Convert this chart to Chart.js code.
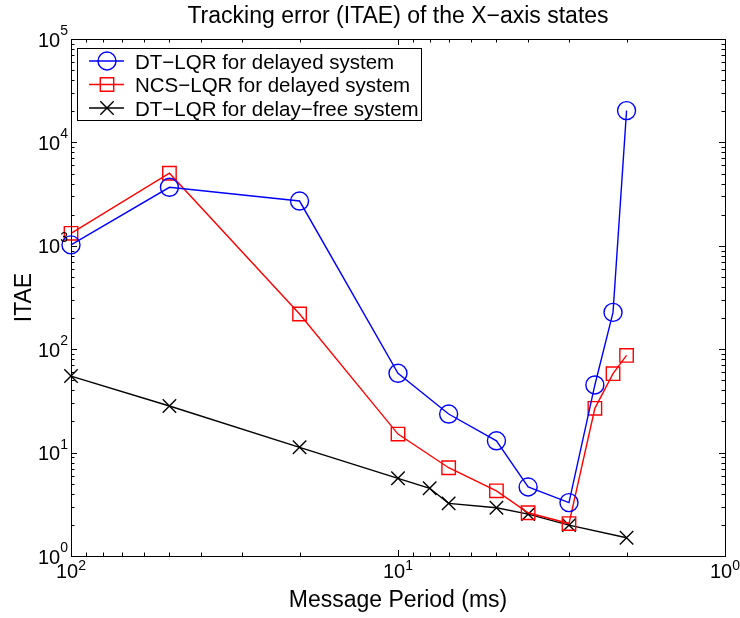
<!DOCTYPE html>
<html>
<head>
<meta charset="utf-8">
<title>ITAE</title>
<script src="https://cdn.jsdelivr.net/npm/chart.js@4.4.1/dist/chart.umd.min.js"></script>
<style>
    body { margin: 0; background: #fff; }
    #wrap { width: 740px; height: 618px; }
</style>
</head>
<body>
<div id="wrap"><canvas id="chart" width="740" height="618"></canvas></div>
<script>
// message periods (ms) and ITAE values for each controller
var periods = [100, 50, 20, 10, 7, 5, 4, 3, 2.5, 2.2, 2];
var dtlqrDelayed = [1020, 3680, 2710, 58.5, 23.6, 13.0, 4.65, 3.28, 45.1, 227, 20300];
var ncslqrDelayed = [1320, 5030, 219, 15.1, 7.14, 4.27, 2.62, 2.06, 26.8, 58, 87];

var periodsFree = [100, 50, 20, 10, 8, 7, 5, 4, 3, 2];
var dtlqrFree = [55, 28.2, 11.25, 5.64, 4.52, 3.23, 2.93, 2.54, 1.99, 1.5];

var seriesNames = ["DT\u2212LQR for delayed system", "NCS\u2212LQR for delayed system", "DT\u2212LQR for delay\u2212free system"];

// decade ticks: value, base, exponent
var xDecades = [100, 10, 1];
var xDecadeExp = ["2", "1", "0"];
var yDecades = [1, 10, 100, 1000, 10000, 100000];
var yDecadeExp = ["0", "1", "2", "3", "4", "5"];

var titleText = "Tracking error (ITAE) of the X\u2212axis states";
var xTitle = "Message Period (ms)";
var yTitle = "ITAE";

var FONT = "'Liberation Sans', Arial, Helvetica, sans-serif";

function toPoints(xs, ys) {
    var pts = [];
    for (var i = 0; i < xs.length; i++) {
        pts.push({ x: xs[i], y: ys[i] });
    }
    return pts;
}

// box, inside ticks, labels, titles and legend in the old matlab look
var matlabAxes = {
    id: "matlabAxes",
    afterDraw: function (chart) {
        var ctx = chart.ctx;
        var a = chart.chartArea;
        var xs = chart.scales.x;
        var ys = chart.scales.y;

        ctx.save();
        ctx.strokeStyle = "#000";
        ctx.lineWidth = 1;
        ctx.strokeRect(a.left + 0.5, a.top + 0.5, a.right - a.left, a.bottom - a.top);

        // ticks on all four sides
        function tick(x1, y1, x2, y2) {
            ctx.beginPath();
            ctx.moveTo(x1, y1);
            ctx.lineTo(x2, y2);
            ctx.stroke();
        }
        var i, m, px, py, len;
        for (i = 0; i < xDecades.length; i++) {
            var dx = xDecades[i];
            for (m = 1; m < 10; m++) {
                if (dx * m > 100) break;
                px = Math.round(xs.getPixelForValue(dx * m)) + 0.5;
                len = m == 1 ? 6 : 3.5;
                tick(px, a.bottom, px, a.bottom - len);
                tick(px, a.top, px, a.top + len);
            }
        }
        for (i = 0; i < yDecades.length; i++) {
            var dy = yDecades[i];
            for (m = 1; m < 10; m++) {
                if (dy * m > 100000) break;
                py = Math.round(ys.getPixelForValue(dy * m)) + 0.5;
                len = m == 1 ? 6 : 3.5;
                tick(a.left, py, a.left + len, py);
                tick(a.right, py, a.right - len, py);
            }
        }

        // decade labels 10^n
        ctx.fillStyle = "#000";
        ctx.textBaseline = "alphabetic";
        var baseFont = "20px " + FONT;
        var expFont = "14px " + FONT;
        for (i = 0; i < xDecades.length; i++) {
            px = xs.getPixelForValue(xDecades[i]);
            ctx.font = baseFont;
            var w1 = ctx.measureText("10").width;
            ctx.font = expFont;
            var w2 = ctx.measureText(xDecadeExp[i]).width;
            var sx = px - (w1 + w2) / 2;
            ctx.textAlign = "left";
            ctx.font = baseFont;
            ctx.fillText("10", sx, a.bottom + 22);
            ctx.font = expFont;
            ctx.fillText(xDecadeExp[i], sx + w1, a.bottom + 14);
        }
        for (i = 0; i < yDecades.length; i++) {
            py = ys.getPixelForValue(yDecades[i]);
            ctx.font = expFont;
            var we = ctx.measureText(yDecadeExp[i]).width;
            var ex = a.left - 3 - we;
            ctx.textAlign = "left";
            ctx.fillText(yDecadeExp[i], ex, py - 4);
            ctx.font = baseFont;
            ctx.textAlign = "right";
            ctx.fillText("10", ex, py + 7.5);
        }

        // titles
        ctx.font = "23px " + FONT;
        ctx.textAlign = "center";
        ctx.fillText(titleText, (a.left + a.right) / 2, 23);
        ctx.fillText(xTitle, (a.left + a.right) / 2, a.bottom + 51);
        ctx.save();
        ctx.translate(31, (a.top + a.bottom) / 2);
        ctx.rotate(-Math.PI / 2);
        ctx.fillText(yTitle, 0, 0);
        ctx.restore();

        // legend
        var lx = a.left + 6, ly = a.top + 9, lw = 344, lh = 72;
        ctx.fillStyle = "#fff";
        ctx.fillRect(lx, ly, lw, lh);
        ctx.strokeStyle = "#000";
        ctx.lineWidth = 1;
        ctx.strokeRect(lx + 0.5, ly + 0.5, lw, lh);
        ctx.font = "20.5px " + FONT;
        ctx.textAlign = "left";
        chart.data.datasets.forEach(function (ds, k) {
            var ry = ly + 13 + k * 23.5;
            ctx.strokeStyle = ds.borderColor;
            ctx.lineWidth = ds.borderWidth;
            tick(lx + 12, ry, lx + 47, ry);
            ctx.fillStyle = "rgba(0,0,0,0)";
            Chart.helpers.drawPoint(ctx, {
                pointStyle: ds.pointStyle,
                radius: ds.pointRadius,
                rotation: 0,
                borderWidth: ds.pointBorderWidth
            }, lx + 30, ry);
            ctx.fillStyle = "#000";
            ctx.fillText(ds.label, lx + 58, ry + 7.5);
        });

        ctx.restore();
    }
};

var config = {
    type: "line",
    data: {
        datasets: [{
            label: seriesNames[0],
            data: toPoints(periods, dtlqrDelayed),
            borderColor: "#0000ff",
            pointBorderColor: "#0000ff",
            pointBackgroundColor: "rgba(0,0,0,0)",
            pointStyle: "circle",
            pointRadius: 9,
            pointBorderWidth: 1.4,
            borderWidth: 1.4,
            clip: false
        },
        {
            label: seriesNames[1],
            data: toPoints(periods, ncslqrDelayed),
            borderColor: "#ff0000",
            pointBorderColor: "#ff0000",
            pointBackgroundColor: "rgba(0,0,0,0)",
            pointStyle: "rect",
            pointRadius: 9.5,
            pointBorderWidth: 1.4,
            borderWidth: 1.4,
            clip: false
        },
        {
            label: seriesNames[2],
            data: toPoints(periodsFree, dtlqrFree),
            borderColor: "#000000",
            pointBorderColor: "#000000",
            pointBackgroundColor: "rgba(0,0,0,0)",
            pointStyle: "crossRot",
            pointRadius: 9.5,
            pointBorderWidth: 1.4,
            borderWidth: 1.4,
            clip: false
        }]
    },
    options: {
        responsive: false,
        animation: false,
        layout: { padding: { left: 71, right: 15, top: 39, bottom: 62 } },
        plugins: {
            legend: { display: false },
            tooltip: { enabled: false }
        },
        scales: {
            x: { type: "logarithmic", reverse: true, min: 1, max: 100, display: false },
            y: { type: "logarithmic", min: 1, max: 100000, display: false }
        }
    },
    plugins: [matlabAxes]
};

var chart = new Chart(document.getElementById("chart"), config);
</script>
</body>
</html>
